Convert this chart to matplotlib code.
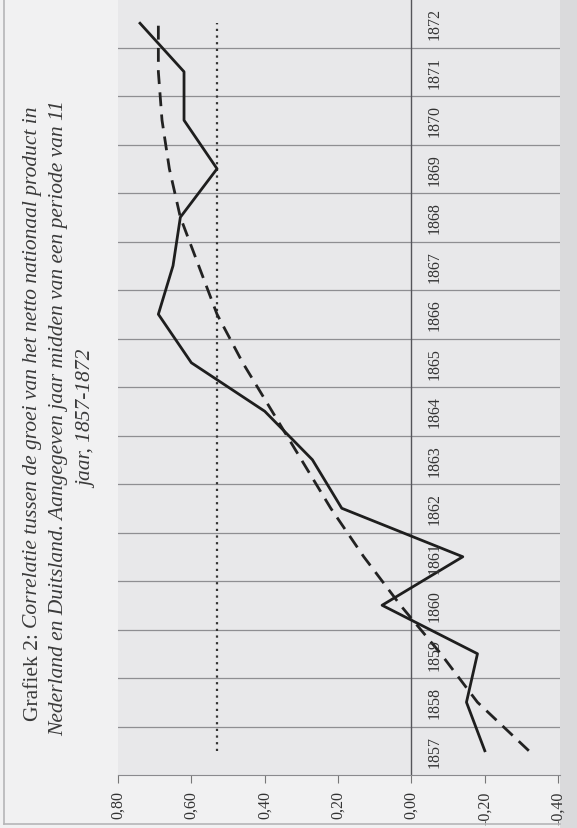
import numpy as np
import matplotlib.pyplot as plt
from matplotlib.lines import Line2D
from matplotlib.patches import Rectangle

years = list(range(1857, 1873))
correlation = [-0.20, -0.15, -0.18, 0.08, -0.14, 0.19, 0.27, 0.40,
               0.60, 0.69, 0.65, 0.63, 0.53, 0.62, 0.62, 0.74]
trend = [-0.32, -0.18, -0.08, 0.03, 0.13, 0.22, 0.30, 0.38,
         0.46, 0.53, 0.58, 0.63, 0.66, 0.68, 0.69, 0.69]
average = [0.53] * len(years)
value_ticks = [0.80, 0.60, 0.40, 0.20, 0.00, -0.20, -0.40]

title_parts = ["Grafiek 2: ",
               "Correlatie tussen de groei van het netto nationaal product in",
               "Nederland en Duitsland. Aangegeven jaar midden van een periode van 11",
               "jaar, 1857-1872"]

W, H = 577, 829
plt.rcParams['font.family'] = ['Liberation Serif', 'DejaVu Serif']

fig = plt.figure(figsize=(W / 100, H / 100), dpi=100)
fig.patch.set_facecolor('#f1f1f2')

# page strip on the right
fig.add_artist(Rectangle((560 / W, 0), 17 / W, 1, transform=fig.transFigure,
                         facecolor='#dadadc', edgecolor='none', zorder=0))
# outer frame (left and bottom visible)
fig.add_artist(Line2D([4 / W, 4 / W], [4 / H, 1], transform=fig.transFigure,
                      color='#b5b5b8', lw=1.2))
fig.add_artist(Line2D([4 / W, 560 / W], [4 / H, 4 / H], transform=fig.transFigure,
                      color='#b5b5b8', lw=1.2))

ax = fig.add_axes([118 / W, 53 / H, (560 - 118) / W, 776 / H])
ax.set_facecolor('#e8e8ea')
pos = np.arange(len(years))

ax.set_xlim(0.80, -0.405)
ax.set_ylim(-0.5, len(years) - 0.5)

# band separators
for k in range(len(years) - 1):
    ax.axhline(k + 0.5, color='#8e8e92', lw=0.9, zorder=1)
ax.axvline(0, color='#55555a', lw=1.0, zorder=2)

ax.plot(average, pos, color='#333333', lw=1.6, linestyle=(0, (1, 2)), zorder=3)
ax.plot(trend, pos, color='#222222', lw=2.0, linestyle=(0, (5, 3)), zorder=4)
ax.plot(correlation, pos, color='#1e1e1e', lw=2.0, zorder=5)

for p, yr in zip(pos, years):
    ax.text(-0.062, p, str(yr), rotation=90, ha='center', va='center',
            fontsize=11.5, color='#333333', zorder=6)

ax.set_xticks(value_ticks)
ax.set_xticklabels([f"{v:.2f}".replace('.', ',') for v in value_ticks],
                   rotation=90, fontsize=11.5, color='#333333')
ax.set_yticks([])
ax.tick_params(axis='x', direction='out', length=6, color='#777777', pad=5)
for side in ['top', 'left', 'right']:
    ax.spines[side].set_visible(False)
ax.spines['bottom'].set_color('#8a8a8e')

# rotated title, first line partly upright
r = fig.canvas.get_renderer()
fs = 15.5
center_y = 414
a = fig.text(0, 0, title_parts[0], rotation=90, ha='center', va='bottom',
             fontsize=fs, color='#3a3a3a')
b = fig.text(0, 0, title_parts[1], rotation=90, ha='center', va='bottom',
             fontsize=fs, style='italic', color='#3a3a3a')
ha_ = a.get_window_extent(r).height
hb_ = b.get_window_extent(r).height
a.set_position((33 / W, 1 - (center_y + (ha_ + hb_) / 2) / H))
b.set_position((33 / W, 1 - (center_y + (ha_ + hb_) / 2 - ha_) / H))
fig.text(59 / W, 1 - 418 / H, title_parts[2], rotation=90, ha='center', va='center',
         fontsize=fs, style='italic', color='#3a3a3a')
fig.text(88 / W, 1 - 419 / H, title_parts[3], rotation=90, ha='center', va='center',
         fontsize=fs, style='italic', color='#3a3a3a')

fig.savefig('out.png', dpi=100, facecolor=fig.get_facecolor())
